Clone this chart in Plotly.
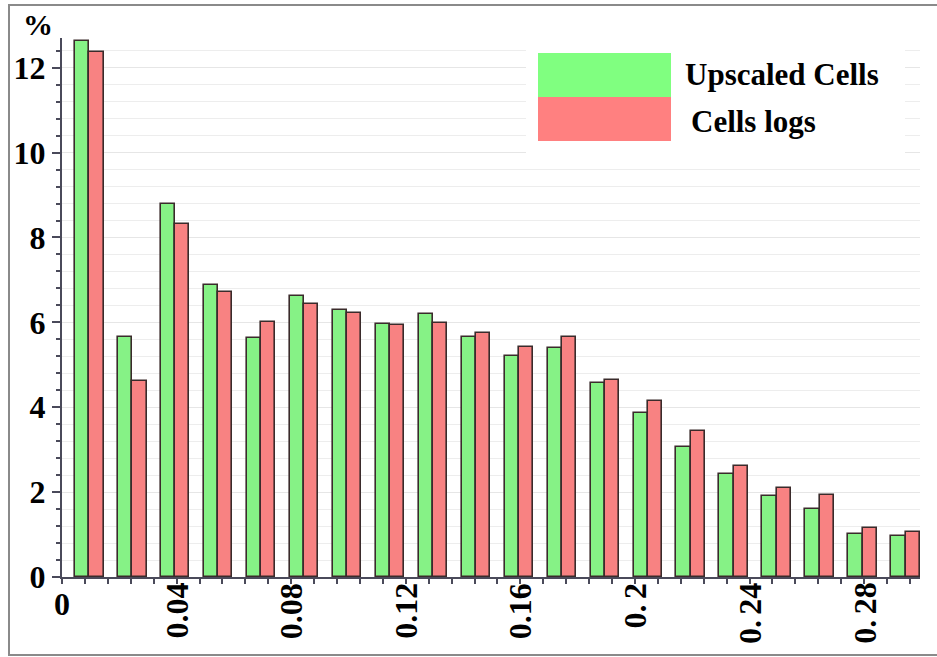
import plotly.graph_objects as go

# ---- data ----
bin_left = [0.0, 0.015, 0.03, 0.045, 0.06, 0.075, 0.09, 0.105, 0.12, 0.135,
            0.15, 0.165, 0.18, 0.195, 0.21, 0.225, 0.24, 0.255, 0.27, 0.285]
upscaled = [12.62, 5.65, 8.80, 6.89, 5.63, 6.63, 6.28, 5.97, 6.20, 5.65,
            5.21, 5.39, 4.57, 3.86, 3.07, 2.43, 1.91, 1.60, 1.01, 0.97]
cell_logs = [12.37, 4.61, 8.32, 6.71, 6.02, 6.44, 6.23, 5.94, 5.98, 5.75,
             5.43, 5.65, 4.65, 4.15, 3.44, 2.62, 2.09, 1.93, 1.16, 1.05]
x_tickvals = [0, 0.04, 0.08, 0.12, 0.16, 0.2, 0.24, 0.28]
x_ticktext = ["0", "0.04", "0.08", "0.12", "0.16", "0.\u20062", "0.\u200624", "0.\u200628"]
y_tickvals = [0, 2, 4, 6, 8, 10, 12]
series_names = ["Upscaled Cells", "Cells logs"]

GREEN = "#86F286"
RED = "#F88282"
LEG_GREEN = "#80FF80"
LEG_RED = "#FF8080"
EDGE = "#3a2b2b"
AXIS = "#4a4a5a"
FONT = "Liberation Serif, Times New Roman, serif"

fig = go.Figure()
fig.add_trace(go.Bar(x=bin_left, y=upscaled, name=series_names[0],
                     offset=0.0045, width=0.005,
                     marker=dict(color=GREEN, line=dict(color=EDGE, width=1.6))))
fig.add_trace(go.Bar(x=bin_left, y=cell_logs, name=series_names[1],
                     offset=0.0095, width=0.005,
                     marker=dict(color=RED, line=dict(color=EDGE, width=1.6))))

W, H = 937, 657
L, R, T, B = 62, 17, 38, 80
pw, ph = W - L - R, H - T - B


def px(xp):
    return (xp - L) / pw


def py(yp):
    return (H - B - yp) / ph


shapes = []
# outer frame
shapes.append(dict(type="rect", xref="paper", yref="paper",
                   x0=px(9), x1=px(990), y0=py(655), y1=py(5),
                   line=dict(color="#8a8a8a", width=2), layer="above"))
# legend background + swatches
shapes.append(dict(type="rect", xref="paper", yref="paper",
                   x0=px(526), x1=px(905), y0=py(160), y1=py(40),
                   fillcolor="white", line=dict(width=0), layer="above"))
shapes.append(dict(type="rect", xref="paper", yref="paper",
                   x0=px(538), x1=px(671), y0=py(97), y1=py(53),
                   fillcolor=LEG_GREEN, line=dict(width=0), layer="above"))
shapes.append(dict(type="rect", xref="paper", yref="paper",
                   x0=px(538), x1=px(671), y0=py(141), y1=py(97),
                   fillcolor=LEG_RED, line=dict(width=0), layer="above"))

annotations = [
    dict(text="<b>%s</b>" % series_names[0], xref="paper", yref="paper",
         x=px(683), y=py(75), xanchor="left", yanchor="middle", showarrow=False,
         font=dict(family=FONT, size=31, color="black")),
    dict(text="<b>%s</b>" % series_names[1], xref="paper", yref="paper",
         x=px(689), y=py(121), xanchor="left", yanchor="middle", showarrow=False,
         font=dict(family=FONT, size=31, color="black")),
    dict(text="<b>%</b>", xref="paper", yref="paper",
         x=px(38), y=py(25), xanchor="center", yanchor="middle", showarrow=False,
         font=dict(family=FONT, size=30, color="black")),
]
# x tick labels (first one upright, the rest rotated)
for i, (v, t) in enumerate(zip(x_tickvals, x_ticktext)):
    annotations.append(dict(
        text="<b>%s</b>" % t, xref="x", yref="paper", x=v,
        y=py(584) if i == 0 else py(581),
        xanchor="center", yanchor="top", showarrow=False,
        textangle=0 if i == 0 else -90,
        font=dict(family=FONT, size=32, color="black")))

fig.update_layout(
    width=W, height=H,
    margin=dict(l=L, r=R, t=T, b=B, autoexpand=False),
    paper_bgcolor="white", plot_bgcolor="white",
    barmode="overlay", showlegend=False, bargap=0,
    shapes=shapes, annotations=annotations,
    font=dict(family=FONT, color="black"),
)
fig.update_xaxes(
    range=[0, 0.2995], showgrid=False, zeroline=False, automargin=False,
    showline=True, linecolor=AXIS, linewidth=2,
    tickmode="array", tickvals=x_tickvals, showticklabels=False,
    ticks="outside", ticklen=5, tickwidth=2, tickcolor=AXIS,
    minor=dict(dtick=0.008, tick0=0, ticks="outside", ticklen=5,
               tickwidth=2, tickcolor=AXIS, showgrid=False),
)
fig.update_yaxes(
    range=[0, 12.7], zeroline=False, automargin=False,
    showline=True, linecolor=AXIS, linewidth=2,
    tickmode="array", tickvals=y_tickvals,
    ticks="outside", ticklen=8, tickwidth=2, tickcolor=AXIS,
    tickfont=dict(family=FONT, size=32, color="black", weight="bold"),
    showgrid=True, gridcolor="#e6e6e6", gridwidth=1,
    minor=dict(dtick=0.4, tick0=0, ticks="outside", ticklen=4,
               tickwidth=2, tickcolor=AXIS, showgrid=True,
               gridcolor="#ededed", gridwidth=1),
)

fig.write_html("out.html", config={"displayModeBar": False},
               post_script="document.body.style.margin='0';document.body.style.overflow='hidden';")
